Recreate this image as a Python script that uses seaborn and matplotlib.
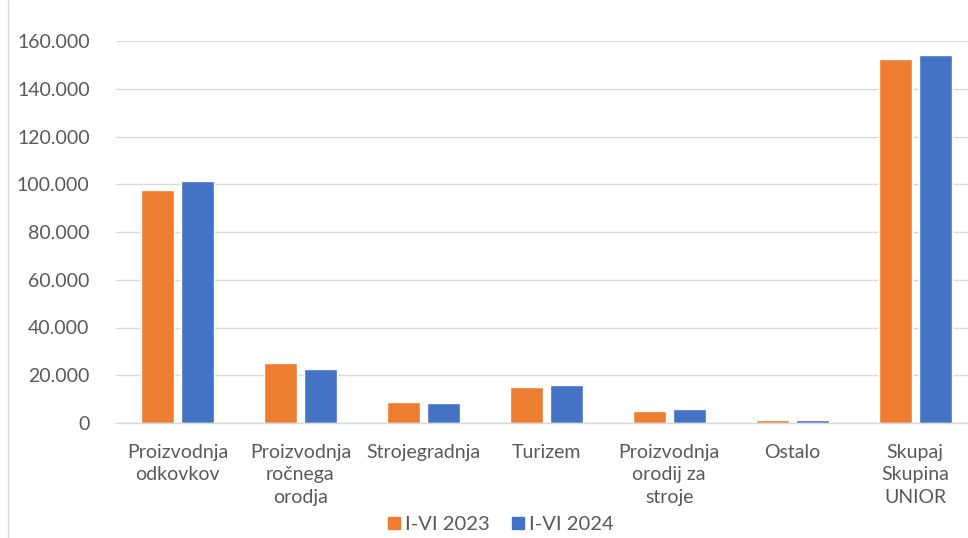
import pandas as pd
import matplotlib.pyplot as plt
import seaborn as sns
from matplotlib.lines import Line2D
from matplotlib.ticker import FuncFormatter

# Data
categories = ["Proizvodnja\nodkovkov", "Proizvodnja\nročnega\norodja", "Strojegradnja",
              "Turizem", "Proizvodnja\norodij za\nstroje", "Ostalo", "Skupaj\nSkupina\nUNIOR"]
values_2023 = [97600, 25100, 8900, 15100, 5000, 1200, 152600]
values_2024 = [101400, 22600, 8400, 15900, 5900, 1100, 154200]
series = ["I-VI 2023", "I-VI 2024"]

df = pd.DataFrame({
    "kategorija": categories * 2,
    "vrednost": values_2023 + values_2024,
    "obdobje": [series[0]] * len(categories) + [series[1]] * len(categories),
})

sns.set_style("white")
plt.rcParams['font.family'] = ['Lato', 'DejaVu Sans']

fig = plt.figure(figsize=(9.68, 5.38), dpi=100)
W, H = 968, 538
ax = fig.add_axes([116 / W, 1 - 423 / H, (968 - 116) / W, (423 - 41) / H])

sns.barplot(data=df, x="kategorija", y="vrednost", hue="obdobje",
            palette=["#ED7D31", "#4472C4"], width=0.65, gap=0.175,
            saturation=1, ax=ax, legend=False)

ax.set_ylim(0, 160000)
ax.set_xlim(-0.5, 6.43)
ax.set_yticks(range(0, 160001, 20000))
ax.yaxis.set_major_formatter(FuncFormatter(lambda v, p: f"{int(v):,}".replace(",", ".")))
ax.grid(axis="y", color="#d9d9d9", linewidth=1)
ax.set_axisbelow(True)
for s in ["top", "right", "left"]:
    ax.spines[s].set_visible(False)
ax.spines["bottom"].set_color("#d9d9d9")
ax.spines["bottom"].set_linewidth(1)
ax.tick_params(axis="both", length=0, labelsize=14, colors="#595959")
ax.tick_params(axis="y", pad=19)
ax.tick_params(axis="x", pad=15)
ax.set_xlabel("")
ax.set_ylabel("")
for lbl in ax.get_xticklabels():
    lbl.set_linespacing(1.4)

# Legend
handles = [Line2D([], [], marker="s", linestyle="", markersize=9, color=c)
           for c in ["#ED7D31", "#4472C4"]]
fig.legend(handles, series, loc="center", bbox_to_anchor=(500 / W, 1 - 524 / H),
           ncol=2, frameon=False, fontsize=14.5, labelcolor="#595959",
           handlelength=0.8, handletextpad=0.15, columnspacing=1.0)

# Chart border on the left
fig.add_artist(Line2D([8 / W, 8 / W], [0, 1], color="#d9d9d9", linewidth=1))

plt.savefig("out.png", dpi=100)
plt.close()
